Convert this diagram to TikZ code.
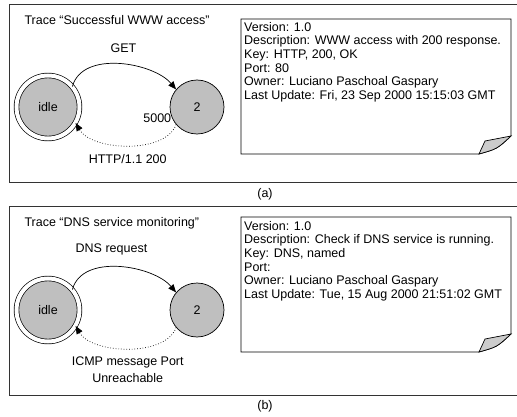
\documentclass[tikz,border=0pt]{standalone}
\usepackage{fontspec}
\setmainfont{Liberation Sans}
\usepackage{tikz}
\usetikzlibrary{arrows.meta}
\tikzset{>={Triangle[length=8pt,width=6.5pt]}}
\tikzset{
	panel/.style={draw=black!80, line width=0.8pt},
	state/.style={circle, draw, line width=0.7pt, fill=gray!50, minimum size=54pt, inner sep=0pt},
	startstate/.style={state, double, double distance=4pt, minimum size=63pt},
	notebg/.style={rectangle, minimum width=270pt, minimum height=135pt, inner sep=0pt, outer sep=0pt},
	notetext/.style={anchor=north west, inner sep=0pt, align=left},
	trans/.style={->, line width=0.7pt},
	reply/.style={->, dotted, line width=0.7pt},
	edgelabel/.style={align=center, font=\fontsize{12.5}{17}\selectfont},
}
\newcommand{\notefold}[1]{% {node}
	\draw[line width=0.7pt, fill=white] (#1.north west) -- (#1.north east) -- ([yshift=18pt]#1.south east) .. controls ([xshift=-14pt,yshift=5pt]#1.south east) .. ([xshift=-32pt]#1.south east) -- (#1.south west) -- cycle; % paper
	\draw[line width=0.7pt, fill=gray!40] ([yshift=18pt]#1.south east) -- ([xshift=-26pt,yshift=13pt]#1.south east) -- ([xshift=-32pt]#1.south east) .. controls ([xshift=-14pt,yshift=5pt]#1.south east) .. ([yshift=18pt]#1.south east) -- cycle; % dog-ear
}

\begin{document}
\begin{tikzpicture}[x=1pt, y=1pt, font=\fontsize{12.5}{13.6}\selectfont]
	\useasboundingbox (0,0) rectangle (517,-417);

	% (a) WWW access
	\draw[panel] (9,-4) rectangle (530,-182);
	\node[anchor=base west] (titleA) at (21,-25) {Trace “Successful WWW access”};
	\node[startstate] (idleA) at (48,-107) {idle};
	\node[state] (twoA) at (197,-107) {2};
	\draw[trans] (idleA.40) .. controls +(75:38) and +(130:35) .. (twoA.140) node[edgelabel, midway, above=8pt, xshift=4pt] (getA) {GET};
	\draw[reply] (twoA.220) .. controls +(250:32) and +(-60:32) .. (idleA.-30)
		node[pos=0, anchor=south east, inner sep=1.5pt, xshift=-3pt] (timeA) {5000}
		node[edgelabel, midway, below=5pt] (httpA) {HTTP/1.1 200};
	\node[notebg, anchor=north west] (noteA) at (241,-19) {};
	\notefold{noteA}
	\node[notetext] (infoA) at ([xshift=3pt,yshift=-3pt]noteA.north west) {Version: 1.0\\Description: WWW access with 200 response.\\Key: HTTP, 200, OK\\Port: 80\\Owner: Luciano Paschoal Gaspary\\Last Update: Fri, 23 Sep 2000 15:15:03 GMT};
	\node (capA) at (265,-194) {(a)};

	% (b) DNS monitoring
	\draw[panel] (9,-206) rectangle (530,-395);
	\node[anchor=base west] (titleB) at (21,-226) {Trace “DNS service monitoring”};
	\node[startstate] (idleB) at (48,-310) {idle};
	\node[state] (twoB) at (197,-310) {2};
	\draw[trans] (idleB.40) .. controls +(75:38) and +(130:35) .. (twoB.140) node[edgelabel, midway, above=8pt, xshift=-8pt] (dnsB) {DNS request};
	\draw[reply] (twoB.220) .. controls +(250:32) and +(-60:32) .. (idleB.-30)
		node[edgelabel, midway, below=5pt] (icmpB) {ICMP message Port\\Unreachable};
	\node[notebg, anchor=north west] (noteB) at (241,-217) {};
	\notefold{noteB}
	\node[notetext] (infoB) at ([xshift=3pt,yshift=-4pt]noteB.north west) {Version: 1.0\\Description: Check if DNS service is running.\\Key: DNS, named\\Port:\\Owner: Luciano Paschoal Gaspary\\Last Update: Tue, 15 Aug 2000 21:51:02 GMT};
	\node (capB) at (265,-406) {(b)};
\end{tikzpicture}
\end{document}
